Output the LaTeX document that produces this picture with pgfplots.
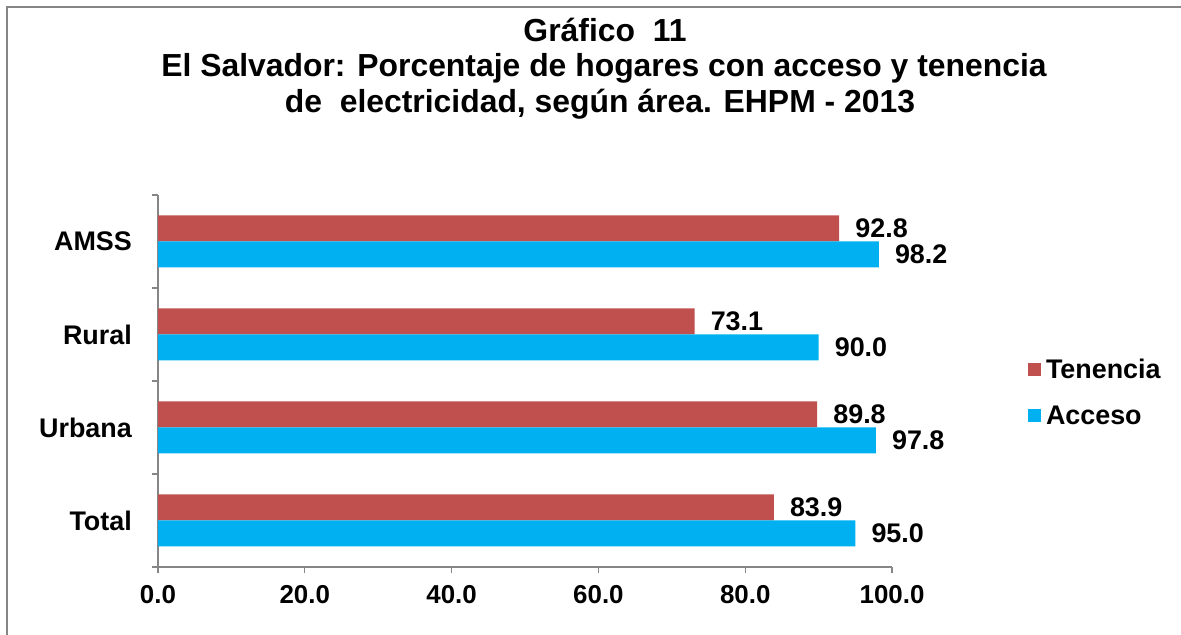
\documentclass[border=0pt]{standalone}
\usepackage{pgfplots}
\pgfplotsset{compat=1.18}
\usepackage{fontspec}
\setmainfont{Liberation Sans}
\definecolor{ten}{HTML}{C0504D}
\definecolor{acc}{HTML}{00B0F0}
\definecolor{axgray}{HTML}{868686}
\begin{document}
\begin{tikzpicture}[x=1bp,y=1bp]
\useasboundingbox (0,0) rectangle (1181,635);
\draw[line width=2bp, color=axgray] (7,0) -- (7,628) -- (1181,628);
\node[align=center, font=\fontsize{32}{37}\selectfont\bfseries, anchor=center] at (605,605) {Gráfico\ \ 11};
\node[align=center, font=\fontsize{32}{37}\selectfont\bfseries, anchor=center] at (604,567) {El Salvador: Porcentaje de hogares con acceso y tenencia};
\node[align=center, font=\fontsize{32}{37}\selectfont\bfseries, anchor=center] at (600,531) {de\ \ electricidad, según área. EHPM - 2013};
\begin{axis}[
  at={(158bp,68bp)}, anchor=south west,
  xbar, scale only axis, width=734bp, height=372bp,
  xmin=0, xmax=100, ymin=-0.5, ymax=3.5,
  clip=false,
  axis x line*=bottom, axis y line*=left,
  axis line style={axgray, line width=1.2bp, -},
  xtick={0,20,...,100},
  ytick={0,1,2,3}, yticklabels={Total,Urbana,Rural,AMSS},
  minor ytick={-0.5,0.5,1.5,2.5,3.5},
  tick align=outside,
  major tick length=6bp, minor tick length=6bp,
  major y tick style={draw=none},
  minor y tick style={axgray, line width=1.2bp},
  major x tick style={axgray, line width=1.2bp},
  tick label style={font=\fontsize{27}{32}\selectfont\bfseries, inner sep=0pt},
  /pgf/number format/assume math mode=true,
  xticklabel style={font=\fontsize{26}{32}\selectfont\bfseries, anchor=north, yshift=-12bp, /pgf/number format/.cd, fixed, fixed zerofill, precision=1},
  yticklabel style={anchor=east, xshift=-20bp},
  bar width=26bp,
  nodes near coords,
  nodes near coords style={anchor=west, inner sep=0pt, xshift=16bp, text=black, font=\fontsize{27}{32}\selectfont\bfseries, /pgf/number format/.cd, fixed, fixed zerofill, precision=1},
  legend style={at={(1.185,0.47)}, anchor=west, draw=none, fill=none, font=\fontsize{27}{32}\selectfont\bfseries, row sep=22bp, inner sep=0pt},
  legend cell align=left,
  legend image code/.code={\fill[#1] (0bp,-6.5bp) rectangle (13bp,6.5bp); \path (16bp,0bp);},
]
\addplot[fill=ten, draw=none, bar shift=13bp] coordinates {(83.9,0) (89.8,1) (73.1,2) (92.8,3)};
\addplot[fill=acc, draw=none, bar shift=-13bp] coordinates {(95.0,0) (97.8,1) (90.0,2) (98.2,3)};
\legend{Tenencia, Acceso}
\end{axis}
\end{tikzpicture}
\end{document}
